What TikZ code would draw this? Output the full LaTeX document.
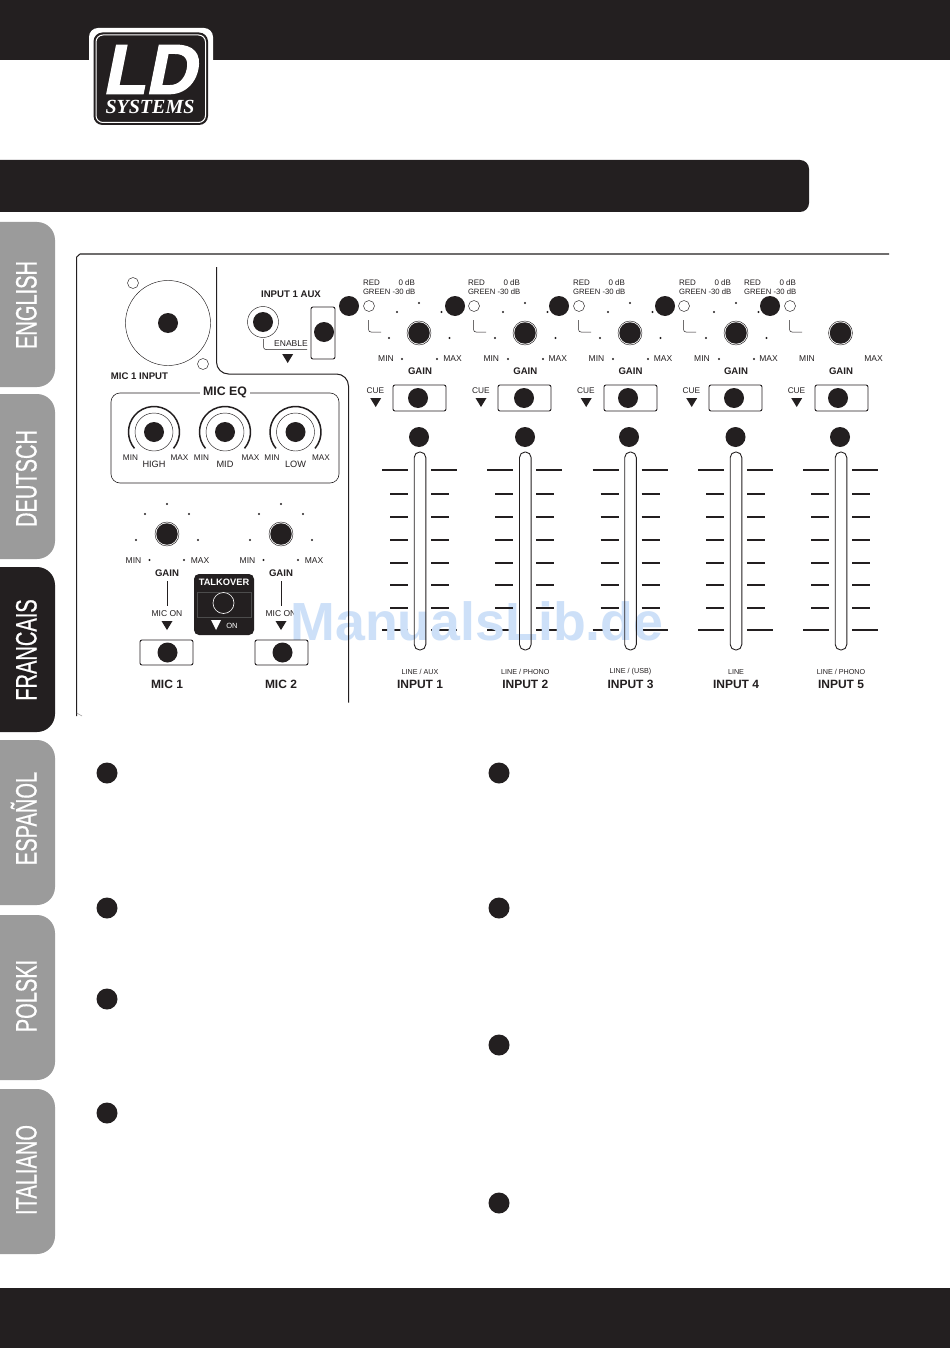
\documentclass[tikz,border=0pt]{standalone}
\usepackage{fontspec}
\setmainfont{Liberation Sans}
\newfontfamily\condf[FakeStretch=0.68,FakeBold=0.5]{Liberation Sans}
\newfontfamily\logold[BoldFeatures={FakeBold=2.2,FakeSlant=0.2}]{Liberation Sans}
\newfontfamily\logoserif{Liberation Serif}
\definecolor{ink}{HTML}{231F20}
\definecolor{tabgray}{HTML}{9B9B9B}
\definecolor{wmark}{HTML}{CDE0F8}
\newcommand{\fs}[1]{\fontsize{#1}{#1}\selectfont}
\tikzset{
  pic base/.style={x=1pt,y=-1pt},
  lbl/.style={inner sep=0pt,outer sep=0pt,text=ink,font=\fs{8.5}},
  blbl/.style={inner sep=0pt,outer sep=0pt,text=ink,font=\fs{9.6}\bfseries},
  bigl/.style={inner sep=0pt,outer sep=0pt,text=ink,font=\fs{12}\bfseries},
  blob/.style={circle,fill=ink,inner sep=0pt,minimum size=20pt},
  thin ring/.style={draw=ink,line width=0.45pt},
  frame/.style={draw=ink,line width=1pt},
  tick/.style={draw=ink,line width=1.3pt},
  btn/.style={draw=ink,line width=0.9pt,rounded corners=2pt,fill=white},
  tri/.style={fill=ink},
  tabtext/.style={inner sep=0pt,rotate=90,anchor=base,text=white,font=\fs{29.5}\condf},
  scale dot/.style={fill=ink},
}
\newcommand{\sdot}[2]{\fill[scale dot] (#1,#2) circle (1.05pt);}
\newcommand{\downtri}[3]{\fill[tri] (#1-5.5,#2) -- (#1+5.5,#2) -- (#1,#2+#3) -- cycle;}
\begin{document}
\begin{tikzpicture}[pic base]
\useasboundingbox (0,0) rectangle (950,1348);
\fill[white] (0,0) rectangle (950,1348);
% bars
\fill[ink] (0,0) rectangle (950,60.5);
\fill[ink,rounded corners=9pt] (-20,160) rectangle (809,212);
\fill[ink] (0,1288) rectangle (950,1348);
% logo
\fill[white,rounded corners=9pt] (89,28) rectangle (213,80);
\fill[white] (89,60) rectangle (213,130);
\fill[ink,rounded corners=9pt] (93.5,32.5) rectangle (208,125);
\draw[white,line width=1pt,rounded corners=7pt] (96,35) rectangle (205.5,122.5);
\node[inner sep=0pt,text=white] (logold) at (149,69.5) {\fs{70}\logold\bfseries LD};
\node[inner sep=0pt,text=white] (logosys) at (150,107) {\logoserif\fs{20}\bfseries\itshape SYSTEMS};
% tabs
\foreach \n/\yt/\yb/\yc/\c/\t in {en/222/387/305/tabgray/ENGLISH,de/394/559/478.5/tabgray/DEUTSCH,fr/567/732/650/ink/FRANCAIS,es/740/905/818.5/tabgray/ESPAÑOL,pl/915/1080/996/tabgray/POLSKI,it/1089/1254/1170/tabgray/ITALIANO}{
  \fill[\c,rounded corners=18pt] (-30,\yt) rectangle (55,\yb);
  \node[tabtext] (tab\n) at (36.5,\yc) {\t};
}
% items that the watermark lies over
\foreach \cx in {420,525.3,630.5,736,841}{
  \draw[tick] (\cx-38,630) -- (\cx-12,630);
  \draw[tick] (\cx+11,630) -- (\cx+37,630);
}
\node[lbl] (mon2) at (281,614) {MIC ON};
% watermark
\node[inner sep=0pt,text=wmark,anchor=base] (wm) at (477,640) {\fs{53.7}\bfseries ManualsLib.de};
% panel frame
\draw[frame] (889,254) -- (80,254) -- (76.7,257) -- (76.7,716);
\draw[draw=ink!50,line width=0.5pt] (76.7,713) -- (82,716);
\draw[frame,rounded corners=12pt] (216.5,267) -- (216.5,374) -- (348.5,374) -- (348.5,702.5);
% XLR
\draw[thin ring] (168,323) circle (42.5pt);
\draw[thin ring] (133,283) circle (5.5pt);
\draw[thin ring] (203,364) circle (5.5pt);
\node[blob] (xlr) at (168,323) {};
\node[blbl] (xlrl) at (139.5,376.5) {MIC 1 INPUT};
% MIC EQ
\draw[draw=ink,line width=0.6pt,rounded corners=9pt] (111,393) rectangle (339,483);
\node[inner sep=3pt,fill=white,text=ink,font=\fs{12.3}\bfseries] (eql) at (225,392) {MIC EQ};
\foreach \n/\x/\t in {a/154/HIGH,b/225/MID,c/295.5/LOW}{
  \draw[ink,line width=1.5pt] (\x,432) ++(-40:25.5pt) arc[start angle=-40,end angle=220,radius=25.5pt];
  \draw[thin ring] (\x,432) circle (19pt);
  \node[blob] (eq\n) at (\x,432) {};
  \node[lbl,font=\fs{8.2}] (eqmin\n) at (\x-23.5,458) {MIN};
  \node[lbl,font=\fs{8.2}] (eqmax\n) at (\x+25.5,458) {MAX};
  \node[lbl,font=\fs{9.2}] (eqt\n) at (\x,464) {\t};
}
% INPUT 1 AUX
\node[blbl] (auxl) at (291,294) {INPUT 1 AUX};
\draw[thin ring] (263,322) circle (15.5pt);
\node[blob] (auxj) at (263,322) {};
\draw[draw=ink,line width=0.5pt,rounded corners=2.5pt] (263.5,339) -- (263.5,349.5) -- (307,349.5);
\node[lbl] (enl) at (291,344) {ENABLE};
\downtri{287.7}{354}{9}
\draw[btn] (311,307) rectangle (335,359);
\node[blob] (auxb) at (324,332) {};
% channels
\foreach \i/\cx/\ledx/\redl/\dbr/\ldot/\kx/\bl/\bdot/\fdot/\tag/\hasdots in {
 1/420/369/363/415/349/419/393/418/419/LINE {/} AUX/1,
 2/525.3/474/468/520/455/525/498/524/525/LINE {/} PHONO/1,
 3/630.5/579/573/625/559/630/604/628/629/LINE {/} (USB)/1,
 4/736/684/679/731/665/736/709/734/735.5/LINE/1,
 5/841/790/744/796/770/840.5/815/838/840/LINE {/} PHONO/0}{
  \draw[thin ring] (\ledx,306) circle (5.5pt);
  \node[blob] (led\i) at (\ldot,306) {};
  \node[lbl,anchor=west,font=\fs{8}] (red\i) at (\redl,283) {RED};
  \node[lbl,anchor=east,font=\fs{8}] (db\i) at (\dbr,283) {0 dB};
  \node[lbl,anchor=west,font=\fs{7.7}] (grn\i) at (\redl,291.7) {GREEN -30 dB};
  \draw[draw=ink,line width=0.5pt,rounded corners=2.5pt] (\ledx-0.5,320) -- (\ledx-0.5,332) -- (\ledx+12,332);
  \draw[thin ring] (\kx,333) circle (12pt);
  \node[blob,minimum size=21.5pt] (knob\i) at (\kx,333) {};
  \ifnum\hasdots=1
    \foreach \dx/\yy in {0/303,-22/312,22.5/312,-30/338,30.5/338,-17/359,18/359}{\sdot{\kx+\dx}{\yy}}
  \fi
  \node[lbl] (min\i) at (\cx-34,359) {MIN};
  \node[lbl] (max\i) at (\cx+32.5,359) {MAX};
  \node[blbl] (gain\i) at (\cx,371) {GAIN};
  \node[lbl,font=\fs{8.3}] (cue\i) at (\cx-44.5,390.5) {CUE};
  \downtri{\cx-44.3}{398}{9}
  \draw[btn] (\bl,385) rectangle (\bl+53,411);
  \node[blob] (cb\i) at (\bdot,398) {};
  \node[blob] (fd\i) at (\fdot,437) {};
  % ticks
  \foreach \yy in {494,517,540,563,585,608}{
    \draw[tick] (\cx-30,\yy) -- (\cx-12,\yy);
    \draw[tick] (\cx+11,\yy) -- (\cx+29,\yy);
  }
  \draw[tick] (\cx-38,470) -- (\cx-12,470);
  \draw[tick] (\cx+11,470) -- (\cx+37,470);
  % slot
  \draw[draw=ink,line width=0.9pt,rounded corners=5.5pt] (\cx-5.8,452) rectangle (\cx+5.8,650);
  \node[lbl,font=\fs{7.2}] (tag\i) at (\cx,672) {\tag};
  \node[bigl] (inp\i) at (\cx,684.5) {INPUT \i};
}
% mic channels
\foreach \i/\cx/\by in {1/167/140,2/281/255}{
  \foreach \dx/\yy in {0/504,-22/514,22/514,-31/540,31/540,-17.5/560,17/560}{\sdot{\cx+\dx}{\yy}}
  \draw[thin ring] (\cx,534) circle (12pt);
  \node[blob,minimum size=21.5pt] (mk\i) at (\cx,534) {};
  \node[lbl] (mmin\i) at (\cx-33.5,561) {MIN};
  \node[lbl] (mmax\i) at (\cx+33,561) {MAX};
  \node[blbl] (mg\i) at (\cx,573) {GAIN};
  \draw[draw=ink,line width=0.7pt] (\cx,581) -- (\cx,606);
  \downtri{\cx}{621}{9}
  \draw[btn] (\by,640) rectangle (\by+53,665);
  \node[blob] (mb\i) at (\by+27.5,652.5) {};
  \node[bigl] (ml\i) at (\cx,684.5) {MIC \i};
}
\node[lbl] (mon1) at (167,614) {MIC ON};
% talkover
\fill[ink,rounded corners=5pt] (194,574) rectangle (254,635);
\node[inner sep=0pt,text=white,font=\fs{9.3}\bfseries] (tk) at (224,582) {TALKOVER};
\draw[draw=black!70,line width=0.4pt] (197.5,592) rectangle (251,617);
\draw[white,line width=0.6pt] (223.5,603) circle (10.5pt);
\fill[white] (211,620) -- (221,620) -- (216,630) -- cycle;
\node[inner sep=0pt,text=white,font=\fs{7.5}] (tkon) at (232,626) {ON};
% numbered blobs
\foreach \x/\y [count=\k] in {107/773,107/908,107/999,107/1113,499/773,499/908,499/1045,499/1203}{
  \node[blob,minimum size=21pt] (num\k) at (\x,\y) {};
}
\end{tikzpicture}
\end{document}
